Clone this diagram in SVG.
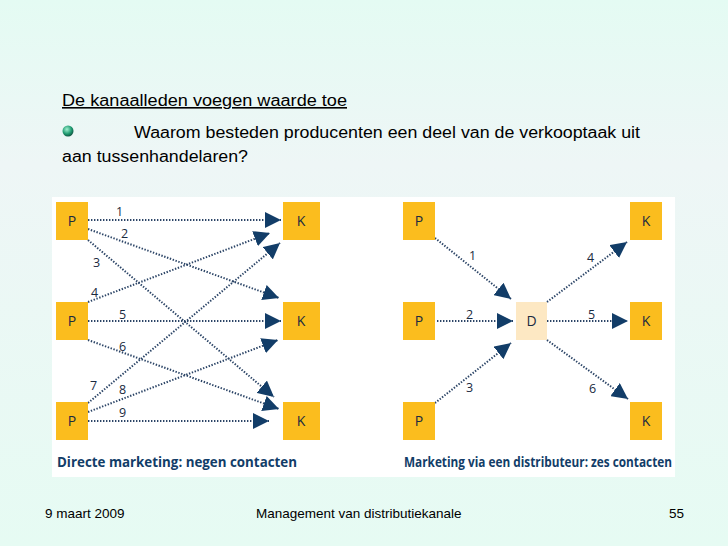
<svg xmlns="http://www.w3.org/2000/svg" width="728" height="546" viewBox="0 0 728 546">
<defs>
<linearGradient id="bg" x1="0" y1="0" x2="0" y2="1"><stop offset="0" stop-color="#e4fbf3"/><stop offset="0.3" stop-color="#eef6f6"/><stop offset="1" stop-color="#e6fbf3"/></linearGradient>
<marker id="ah" markerUnits="userSpaceOnUse" markerWidth="18" markerHeight="16" refX="16" refY="8" orient="auto" viewBox="0 0 18 16"><path d="M0,0 L16,8 L0,16 Z" fill="#123d68"/></marker>
<radialGradient id="gem" cx="0.4" cy="0.35" r="0.7"><stop offset="0" stop-color="#9ff0d0"/><stop offset="0.6" stop-color="#1f9a70"/><stop offset="1" stop-color="#0d4a3a"/></radialGradient>
</defs>
<style>
.n{fill:#fbbd1e}
.nt{font-family:"Open Sans","DejaVu Sans",sans-serif;font-size:14px;fill:#1a2a40;text-anchor:middle}
.c line{stroke:#2b4466;stroke-width:2;stroke-dasharray:1.4 1.6;marker-end:url(#ah)}
.lb{font-family:"Open Sans","DejaVu Sans",sans-serif;font-size:12.5px;fill:#1a2a40}
.cap{font-family:"Open Sans","DejaVu Sans Condensed",sans-serif;font-weight:bold;font-size:14px;fill:#123d68}
.t{font-family:"Liberation Sans",Arial,sans-serif;fill:#000}
</style>
<rect width="728" height="546" fill="url(#bg)"/>
<rect x="52" y="197" width="623" height="280" fill="#fff"/>
<text class="t" x="62" y="106" font-size="16" textLength="285" lengthAdjust="spacingAndGlyphs" text-decoration="underline">De kanaalleden voegen waarde toe</text>
<circle cx="68" cy="131" r="5.5" fill="url(#gem)"/>
<text class="t" x="134" y="138" font-size="16" textLength="506" lengthAdjust="spacingAndGlyphs">Waarom besteden producenten een deel van de verkooptaak uit</text>
<text class="t" x="62" y="162" font-size="16" textLength="186" lengthAdjust="spacingAndGlyphs">aan tussenhandelaren?</text>
<g class="c">
<line x1="88" y1="220" x2="281" y2="220"/>
<line x1="88" y1="229" x2="279" y2="298"/>
<line x1="88" y1="240" x2="274" y2="397"/>
<line x1="88" y1="302" x2="270" y2="233"/>
<line x1="88" y1="321" x2="281" y2="321"/>
<line x1="88" y1="340" x2="279" y2="409"/>
<line x1="88" y1="403" x2="280" y2="243"/>
<line x1="88" y1="412" x2="278" y2="340"/>
<line x1="88" y1="421" x2="269" y2="421"/>
<line x1="435" y1="238" x2="511" y2="299"/>
<line x1="437" y1="321" x2="513" y2="321"/>
<line x1="435" y1="403" x2="511" y2="343"/>
<line x1="547" y1="302" x2="627" y2="242"/>
<line x1="547" y1="321" x2="628" y2="321"/>
<line x1="547" y1="340" x2="628" y2="399"/>
</g>
<g class="lb">
<text x="116" y="216">1</text><text x="121" y="238">2</text><text x="93" y="267">3</text>
<text x="91" y="297">4</text><text x="119" y="319">5</text><text x="119" y="351">6</text>
<text x="90" y="390">7</text><text x="119" y="394">8</text><text x="119" y="417">9</text>
<text x="469" y="260">1</text><text x="466" y="319">2</text><text x="466" y="392">3</text>
<text x="587" y="262">4</text><text x="588" y="319">5</text><text x="589" y="393">6</text>
</g>
<g id="lP1"><rect class="n" x="56" y="202" width="32" height="38"/><text class="nt" x="72" y="226">P</text></g>
<g id="lP2"><rect class="n" x="56" y="302" width="32" height="38"/><text class="nt" x="72" y="326">P</text></g>
<g id="lP3"><rect class="n" x="56" y="402" width="32" height="38"/><text class="nt" x="72" y="426">P</text></g>
<g id="lK1"><rect class="n" x="283" y="202" width="37" height="38"/><text class="nt" x="301" y="226">K</text></g>
<g id="lK2"><rect class="n" x="283" y="302" width="37" height="38"/><text class="nt" x="301" y="326">K</text></g>
<g id="lK3"><rect class="n" x="283" y="402" width="37" height="38"/><text class="nt" x="301" y="426">K</text></g>
<g id="rP1"><rect class="n" x="403" y="202" width="32" height="38"/><text class="nt" x="419" y="226">P</text></g>
<g id="rP2"><rect class="n" x="403" y="302" width="32" height="38"/><text class="nt" x="419" y="326">P</text></g>
<g id="rP3"><rect class="n" x="403" y="402" width="32" height="38"/><text class="nt" x="419" y="426">P</text></g>
<g id="rD"><rect x="516" y="302" width="31" height="38" fill="#fde8c3"/><text class="nt" x="531.5" y="326">D</text></g>
<g id="rK1"><rect class="n" x="630" y="202" width="32" height="38"/><text class="nt" x="646" y="226">K</text></g>
<g id="rK2"><rect class="n" x="630" y="302" width="32" height="38"/><text class="nt" x="646" y="326">K</text></g>
<g id="rK3"><rect class="n" x="630" y="402" width="32" height="38"/><text class="nt" x="646" y="426">K</text></g>
<text class="cap" x="57" y="467" textLength="240" lengthAdjust="spacingAndGlyphs">Directe marketing: negen contacten</text>
<text class="cap" x="404" y="467" textLength="268" lengthAdjust="spacingAndGlyphs">Marketing via een distributeur: zes contacten</text>
<text class="t" x="45" y="518" font-size="13.5">9 maart 2009</text>
<text class="t" x="256" y="518" font-size="13.5">Management van distributiekanale</text>
<text class="t" x="669" y="518" font-size="13.5">55</text>
</svg>
